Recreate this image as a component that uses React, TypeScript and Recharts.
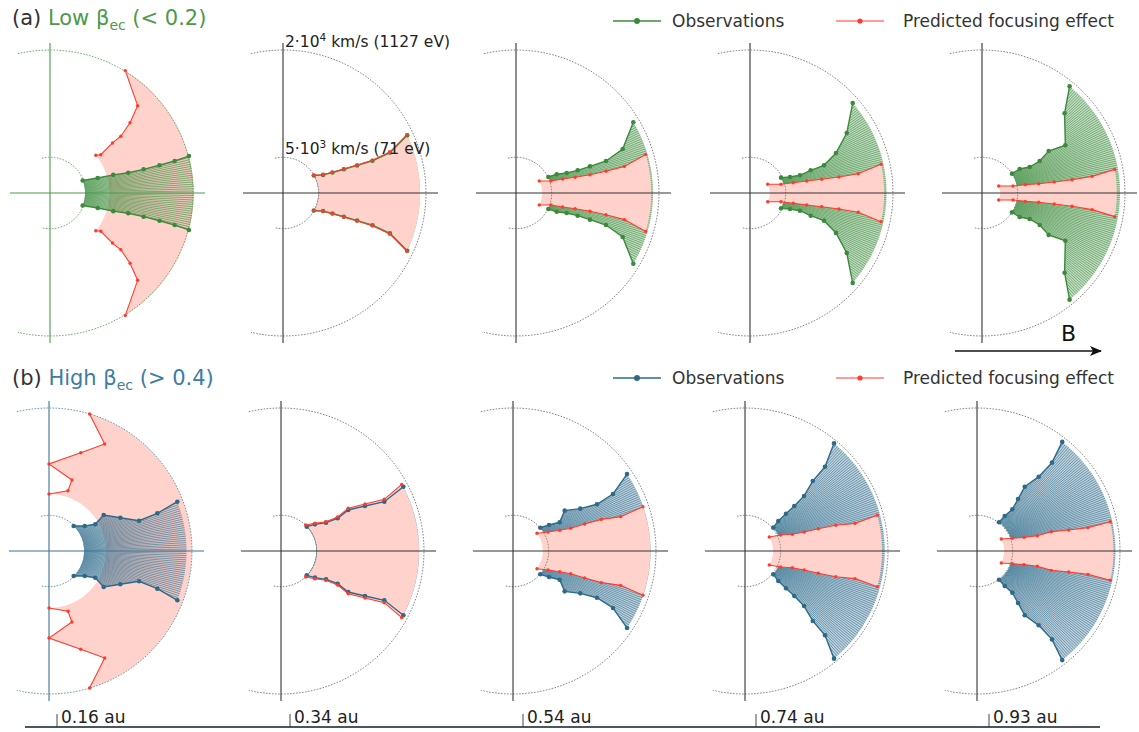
import React from "react";
import { ComposedChart, Scatter, XAxis, YAxis, LineChart, Line } from "recharts";

// heliocentric distance of each column
const distances = [0.16, 0.34, 0.54, 0.74, 0.93];

// edge of the distribution: speed (10^3 km/s) and half-angle to B (deg)
// (a) low beta_ec
const lowObsSpeed = [
  [4.9, 7.0, 9.2, 11.3, 13.5, 15.8, 18.0, 20.1],
  [4.95, 6.15, 7.48, 9.13, 11.06, 13.3, 15.99, 19.16],
  [5.05, 6.27, 7.62, 9.19, 11.0, 13.36, 16.14, 19.16],
  [4.84, 6.03, 7.41, 9.06, 11.05, 13.26, 15.92, 19.09],
  [4.99, 6.25, 7.59, 9.23, 11.02, 13.43, 16.06, 19.3],
];
const lowObsAngle = [
  [21, 17.5, 16, 14.5, 14.2, 14.2, 14.4, 14.9],
  [29.5, 24.3, 22.5, 21.3, 20.4, 19.8, 20.7, 24.9],
  [26.3, 24.7, 21.5, 20.2, 19.8, 19.6, 22.4, 31.1],
  [26.3, 21.8, 19.5, 20.5, 20.5, 24.9, 31.8, 41.2],
  [32.8, 32.5, 28.6, 29.0, 32.2, 29.8, 44.0, 50.6],
];
const lowPredSpeed = [
  [8.3, 8.9, 11.2, 12.7, 14.9, 17.3, 20.1],
  [4.95, 6.15, 7.48, 9.13, 11.06, 13.3, 15.99, 19.16],
  [3.66, 5.17, 6.81, 8.55, 10.66, 12.95, 15.61, 18.91],
  [2.76, 4.5, 6.22, 8.11, 10.21, 12.64, 15.38, 18.76],
  [2.53, 4.45, 6.17, 8.04, 10.22, 12.73, 15.57, 18.85],
];
const lowPredAngle = [
  [39.5, 37, 38.7, 38.7, 41.3, 44.9, 58.4],
  [30.0, 24.6, 22.8, 21.6, 20.7, 20.1, 21.0, 25.2],
  [27.2, 18.9, 16.7, 14.9, 13.9, 13.6, 13.8, 16.5],
  [26.2, 15.7, 13.4, 12.0, 10.8, 10.2, 10.1, 12.4],
  [22.7, 12.7, 10.9, 9.3, 8.65, 8.4, 8.6, 10.1],
];

// (b) high beta_ec
const highObsSpeed = [
  [4.91, 6.1, 7.47, 9.16, 11.01, 13.29, 16.04, 19.23],
  [4.95, 6.04, 7.44, 9.15, 11.02, 13.33, 16.01, 19.33],
  [5.02, 6.21, 7.66, 9.17, 11.12, 13.44, 16.1, 19.24],
  [5.13, 6.27, 7.75, 9.34, 11.29, 13.62, 16.25, 19.54],
  [5.06, 6.24, 7.64, 9.26, 11.2, 13.51, 16.21, 19.36],
];
const highObsAngle = [
  [45.3, 35.0, 30.0, 33.4, 25.0, 18.6, 19.2, 21.0],
  [43.4, 38.1, 32.2, 30.0, 31.4, 28.2, 25.5, 27.7],
  [40.5, 35.8, 31.6, 38.0, 32.2, 29.1, 29.7, 34.0],
  [39.5, 42.0, 42.3, 42.4, 43.0, 45.9, 46.5, 50.4],
  [52.5, 51.6, 49.7, 51.7, 53.4, 50.3, 49.7, 52.0],
];
const highPredSpeed = [
  [7.97, 8.84, 10.43, 12.17, 14.45, 16.87, 19.99],
  [5.02, 6.14, 7.51, 9.24, 11.15, 13.47, 16.15, 19.29],
  [4.17, 5.57, 7.15, 8.67, 10.71, 13.12, 15.8, 19.2],
  [3.92, 5.47, 7.02, 8.71, 10.71, 13.19, 15.86, 19.16],
  [3.79, 5.24, 6.85, 8.7, 10.74, 13.16, 15.86, 19.09],
];
const highPredAngle = [
  [90, 72.5, 72.1, 90, 72.1, 62.5, 73.5],
  [46.5, 39.2, 33.1, 31.0, 32.4, 29.2, 26.6, 28.9],
  [36.4, 28.5, 23.9, 21.5, 20.6, 19.7, 17.7, 18.8],
  [30.0, 24.1, 19.4, 17.8, 16.9, 15.8, 14.1, 15.1],
  [26.3, 19.8, 16.2, 14.2, 14.6, 12.9, 11.9, 12.4],
];

// reference speeds (10^3 km/s) of the dotted circles
const innerSpeed = 5;
const outerSpeed = 20;

// ---- geometry helpers ----
const K = 7.15; // px per 10^3 km/s
const PW = 230;
const PH = 310;
const OX = 40;
const OY = 155;
const rowAX = [50, 283, 516, 750, 982];
const rowBX = [49, 281, 513, 745, 977];
const rowAY = 193;
const rowBY = 551;

const GREEN = "#3b8a3b";
const BLUE = "#2d6a8a";
const RED = "#ff3b2e";
const PINK = "#ffd3cc";

function polar(v: number, deg: number) {
  const a = (deg * Math.PI) / 180;
  return { x: v * Math.cos(a), y: v * Math.sin(a) };
}

function edgePts(speeds: number[], angles: number[], sign: number) {
  return speeds.map((v, i) => polar(v, sign * angles[i]));
}

function arcPts(r: number, from: number, to: number, n = 48) {
  const out: { x: number; y: number }[] = [];
  for (let i = 0; i <= n; i++) out.push(polar(r, from + ((to - from) * i) / n));
  return out;
}

function regionPts(speeds: number[], angles: number[]) {
  const n = speeds.length;
  return [
    ...edgePts(speeds, angles, 1),
    ...arcPts(speeds[n - 1], angles[n - 1], -angles[n - 1]),
    ...edgePts(speeds, angles, -1).reverse(),
    ...arcPts(speeds[0], -angles[0], angles[0]),
  ];
}

const noDot = () => <g />;

const dot = (color: string, r: number) => (p: any) =>
  <circle cx={p.cx} cy={p.cy} r={r} fill={color} />;

const pathOf = (pts: any[]) =>
  "M" + pts.map((q: any) => `${q.x.toFixed(2)},${q.y.toFixed(2)}`).join("L") + "Z";

// fan of thin rays clipped to the region, like the original plot
const RAY_STEP = 0.9;
const rayAngles: number[] = [];
for (let a = -100; a <= 100; a += RAY_STEP) rayAngles.push(a);

const fanShape = (id: string, color: string, base: number) => (p: any) => {
  const pts = p.points || [];
  if (!pts.length) return <g />;
  const d = pathOf(pts);
  const len = outerSpeed * K + 10;
  return (
    <g>
      <defs>
        <clipPath id={id}>
          <path d={d} />
        </clipPath>
      </defs>
      {base > 0 && <path d={d} fill={color} fillOpacity={base} stroke="none" />}
      <g clipPath={`url(#${id})`}>
        {rayAngles.map((a) => {
          const r = (a * Math.PI) / 180;
          return (
            <line
              key={a}
              x1={OX}
              y1={OY}
              x2={OX + len * Math.cos(r)}
              y2={OY - len * Math.sin(r)}
              stroke={color}
              strokeWidth={0.75}
              strokeOpacity={0.8}
            />
          );
        })}
      </g>
    </g>
  );
};

const solidFill = (color: string) => (p: any) => {
  const pts = p.points || [];
  if (!pts.length) return <g />;
  return <path d={pathOf(pts)} fill={color} stroke="none" />;
};

type PanelProps = {
  id: string;
  ox: number;
  oy: number;
  obsS: number[];
  obsA: number[];
  predS: number[];
  predA: number[];
  obsColor: string;
  axisColor: string;
  circleColor: string;
  obsOnTop: boolean;
};

function Panel(props: PanelProps) {
  const { id, ox, oy, obsS, obsA, predS, predA, obsColor, axisColor, circleColor, obsOnTop } = props;
  const xDomain = [-OX / K, (PW - OX) / K];
  const yDomain = [-OY / K, OY / K];
  const hAxis = [{ x: -OX / K, y: 0 }, { x: 155 / K, y: 0 }];
  const vAxis = [{ x: 0, y: -150 / K }, { x: 0, y: 150 / K }];

  const obsFill = (
    <Scatter
      key="of"
      data={regionPts(obsS, obsA)}
      shape={noDot}
      line={fanShape(`${id}-clip`, obsColor, obsOnTop ? 0.1 : 0.3)}
      isAnimationActive={false}
    />
  );
  const predFill = (
    <Scatter key="pf" data={regionPts(predS, predA)} shape={noDot} line={solidFill(PINK)} isAnimationActive={false} />
  );
  const obsEdges = [1, -1].map((s) => (
    <Scatter
      key={`oe${s}`}
      data={edgePts(obsS, obsA, s)}
      shape={dot(obsColor, 2.3)}
      line={{ stroke: obsColor, strokeWidth: 1.4 }}
      isAnimationActive={false}
    />
  ));
  const predEdges = [1, -1].map((s) => (
    <Scatter
      key={`pe${s}`}
      data={edgePts(predS, predA, s)}
      shape={dot(RED, 1.7)}
      line={{ stroke: RED, strokeWidth: 1.1 }}
      isAnimationActive={false}
    />
  ));

  return (
    <div style={{ position: "absolute", left: ox - OX, top: oy - OY }}>
      <ComposedChart width={PW} height={PH} margin={{ top: 0, right: 0, bottom: 0, left: 0 }}>
        <XAxis type="number" dataKey="x" domain={xDomain} hide allowDataOverflow />
        <YAxis type="number" dataKey="y" domain={yDomain} hide allowDataOverflow />
        {obsOnTop ? predFill : obsFill}
        {obsOnTop ? obsFill : predFill}
        <Scatter
          data={arcPts(outerSpeed, 103, -103, 90)}
          shape={noDot}
          line={{ stroke: circleColor, strokeWidth: 0.9, strokeDasharray: "1.6 1.4" }}
          isAnimationActive={false}
        />
        <Scatter
          data={arcPts(innerSpeed, 103, -103, 40)}
          shape={noDot}
          line={{ stroke: circleColor, strokeWidth: 0.9, strokeDasharray: "1.6 1.4" }}
          isAnimationActive={false}
        />
        <Scatter data={hAxis} shape={noDot} line={{ stroke: axisColor, strokeWidth: 1.1 }} isAnimationActive={false} />
        <Scatter data={vAxis} shape={noDot} line={{ stroke: axisColor, strokeWidth: 1.1 }} isAnimationActive={false} />
        {obsOnTop ? predEdges : obsEdges}
        {obsOnTop ? obsEdges : predEdges}
      </ComposedChart>
    </div>
  );
}

const distanceData = distances.map((d, i) => ({ i, d }));

const AuTick = (p: any) => {
  const label = `${distances[p.payload.value].toFixed(2)} au`;
  return (
    <g>
      <line x1={p.x} y1={p.y} x2={p.x} y2={p.y - 13} stroke="#333" strokeWidth={0.9} />
      <text x={p.x + 4} y={p.y - 4} fontSize={17} fill="#222" fontFamily="DejaVu Sans">
        {label}
      </text>
    </g>
  );
};

function Legend({ y, color }: { y: number; color: string }) {
  return (
    <g fontFamily="DejaVu Sans" fontSize={17} fill="#333">
      <line x1={613} y1={y} x2={661} y2={y} stroke={color} strokeWidth={1.5} />
      <circle cx={637} cy={y} r={3} fill={color} />
      <text x={672} y={y + 6}>Observations</text>
      <line x1={836} y1={y} x2={884} y2={y} stroke={RED} strokeWidth={1.2} />
      <circle cx={860} cy={y} r={2.6} fill={RED} />
      <text x={903} y={y + 6}>Predicted focusing effect</text>
    </g>
  );
}

export default function App() {
  return (
    <div
      style={{
        position: "absolute",
        left: 0,
        top: 0,
        width: 1139,
        height: 732,
        background: "#fff",
        fontFamily: "DejaVu Sans",
      }}
    >
      {rowAX.map((ox, i) => (
        <Panel
          key={`a${i}`}
          id={`pa${i}`}
          ox={ox}
          oy={rowAY}
          obsS={lowObsSpeed[i]}
          obsA={lowObsAngle[i]}
          predS={lowPredSpeed[i]}
          predA={lowPredAngle[i]}
          obsColor={GREEN}
          axisColor={i === 0 ? "#4c9a4c" : "#333"}
          circleColor={i === 0 ? "#5fa25f" : "#777"}
          obsOnTop={i === 0}
        />
      ))}
      {rowBX.map((ox, i) => (
        <Panel
          key={`b${i}`}
          id={`pb${i}`}
          ox={ox}
          oy={rowBY}
          obsS={highObsSpeed[i]}
          obsA={highObsAngle[i]}
          predS={highPredSpeed[i]}
          predA={highPredAngle[i]}
          obsColor={BLUE}
          axisColor={i === 0 ? "#3b7295" : "#333"}
          circleColor={i === 0 ? "#5a8caa" : "#777"}
          obsOnTop={i === 0}
        />
      ))}

      <div style={{ position: "absolute", left: 25, top: 688 }}>
        <LineChart width={1075} height={40} data={distanceData} margin={{ top: 0, right: 0, bottom: 0, left: 0 }}>
          <XAxis
            type="number"
            dataKey="i"
            domain={[-32 / 233, (1075 - 32) / 233]}
            ticks={[0, 1, 2, 3, 4]}
            interval={0}
            height={1}
            tickSize={0}
            tickMargin={0}
            axisLine={{ stroke: "#4a5660", strokeWidth: 2 }}
            tick={AuTick}
            allowDataOverflow
          />
          <YAxis hide domain={[0, 1]} />
          <Line dataKey="d" stroke="none" dot={false} isAnimationActive={false} />
        </LineChart>
      </div>

      <svg
        width={1139}
        height={732}
        style={{ position: "absolute", left: 0, top: 0, pointerEvents: "none" }}
      >
        <defs>
          <marker id="arrowB" markerWidth="12" markerHeight="10" refX="11" refY="5" orient="auto" markerUnits="userSpaceOnUse">
            <path d="M0,0 L12,5 L0,10 L3,5 Z" fill="#111" />
          </marker>
        </defs>
        <text x={12} y={25} fontSize={21} fontFamily="DejaVu Sans">
          <tspan fill="#333">(a) </tspan>
          <tspan fill="#4c9a4c">Low β</tspan>
          <tspan fill="#4c9a4c" fontSize={14} dy={5}>ec</tspan>
          <tspan fill="#4c9a4c" dy={-5}> (&lt; 0.2)</tspan>
        </text>
        <text x={12} y={385} fontSize={21} fontFamily="DejaVu Sans">
          <tspan fill="#333">(b) </tspan>
          <tspan fill="#3b7ea1">High β</tspan>
          <tspan fill="#3b7ea1" fontSize={14} dy={5}>ec</tspan>
          <tspan fill="#3b7ea1" dy={-5}> (&gt; 0.4)</tspan>
        </text>
        <Legend y={21} color={GREEN} />
        <Legend y={378} color={BLUE} />

        <text x={285} y={47} fontSize={15.5} fill="#222" fontFamily="DejaVu Sans">
          2·10<tspan fontSize={10.5} dy={-6}>4</tspan>
          <tspan dy={6}> km/s (1127 eV)</tspan>
        </text>
        <text x={285} y={154} fontSize={15.5} fill="#222" fontFamily="DejaVu Sans">
          5·10<tspan fontSize={10.5} dy={-6}>3</tspan>
          <tspan dy={6}> km/s (71 eV)</tspan>
        </text>

        <line x1={955} y1={351} x2={1101} y2={351} stroke="#111" strokeWidth={1.5} markerEnd="url(#arrowB)" />
        <text x={1061} y={341} fontSize={22} fill="#111" fontFamily="DejaVu Sans">
          B
        </text>
      </svg>
    </div>
  );
}
